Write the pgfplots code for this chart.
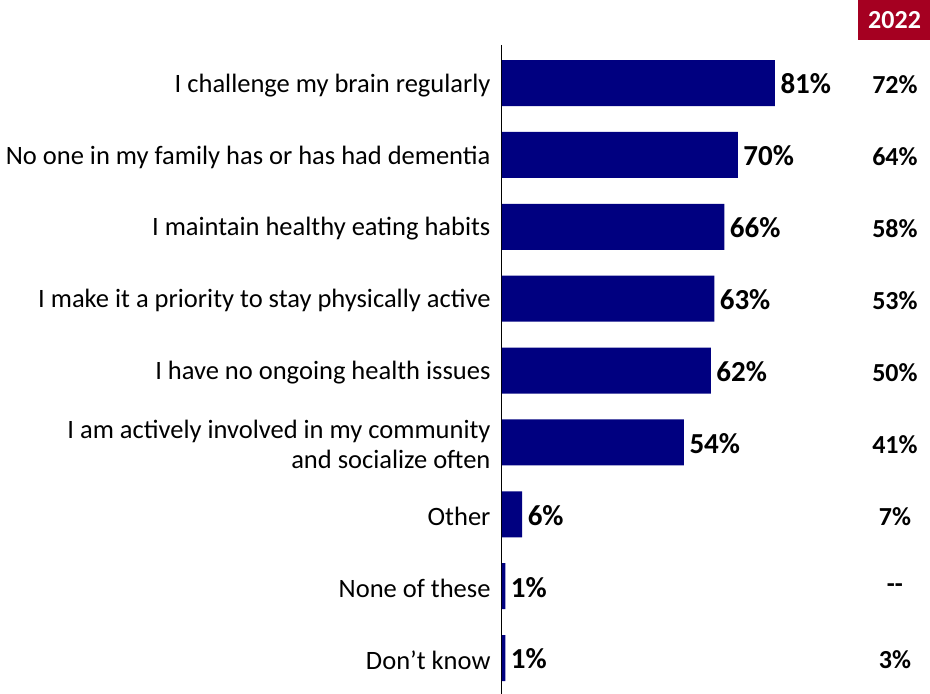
\documentclass[border=0pt]{standalone}
\usepackage{pgfplots}
\pgfplotsset{compat=1.18}
\usepackage{pgfplotstable}
\usepackage{fontspec}
\setmainfont{Carlito}
\definecolor{barnavy}{HTML}{000080}
\definecolor{headred}{HTML}{A50021}

\pgfplotstableread[col sep=comma]{
idx,cur,prev
0,81,72\%
1,70,64\%
2,66,58\%
3,63,53\%
4,62,50\%
5,54,41\%
6,6,7\%
7,1,-{}-
8,1,3\%
}\datatable

\begin{document}
\begin{tikzpicture}[x=1pt,y=1pt]
\path[use as bounding box] (0,0) rectangle (930,694);
\begin{axis}[
  at={(502pt,0pt)}, anchor=south west,
  scale only axis,
  width=337pt, height=649pt,
  xbar, bar width=46pt,
  xmin=0, xmax=100,
  ymin=-0.53, ymax=8.5,
  y dir=reverse,
  axis x line=none,
  axis y line*=left,
  y axis line style={black, line width=1pt, -},
  ytick={0,...,8},
  yticklabels={
    I challenge my brain regularly,
    No one in my family has or has had dementia,
    I maintain healthy eating habits,
    I make it a priority to stay physically active,
    I have no ongoing health issues,
    {I am actively involved in my community\\and socialize often},
    Other,
    None of these,
    Don’t know},
  yticklabel style={align=right, font=\fontsize{26.5}{30}\selectfont, xshift=-8pt, yshift=-2pt},
  major tick length=0pt,
  clip=false,
  /pgf/number format/assume math mode=true,
  nodes near coords={\pgfmathprintnumber{\pgfplotspointmeta}\%},
  nodes near coords style={font=\fontsize{29}{31}\selectfont\bfseries, anchor=west, xshift=2pt, yshift=-1pt},
]
\addplot[fill=barnavy, draw=none] table[x=cur, y=idx] {\datatable};
% values from the 2022 survey, listed in a column on the right
\addplot[only marks, mark=none, nodes near coords={\pgfplotspointmeta},
  point meta=explicit symbolic,
  nodes near coords style={font=\fontsize{26}{28}\selectfont\bfseries, anchor=center, xshift=0pt, yshift=-1pt}]
  table[x expr=116, y=idx, meta=prev] {\datatable};
\node[fill=headred, text=white, font=\fontsize{26}{28}\selectfont\bfseries,
  minimum width=73pt, minimum height=40pt, inner sep=0pt]
  at (axis cs:116.5,-0.876) {2022};
\end{axis}
\end{tikzpicture}
\end{document}
